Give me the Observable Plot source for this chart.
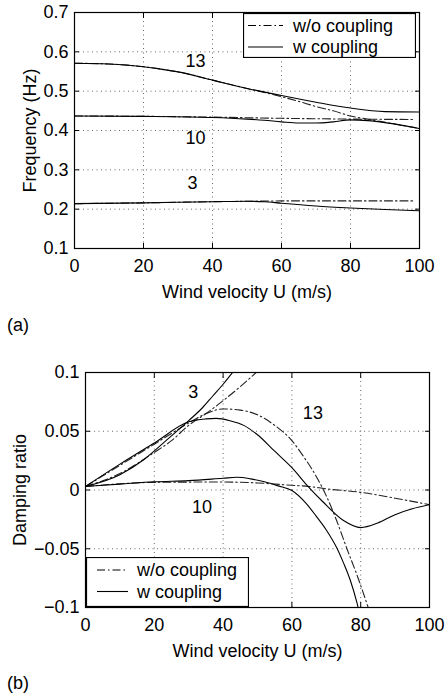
<!DOCTYPE html>
<html><head><meta charset="utf-8">
<script src="https://cdn.jsdelivr.net/npm/d3@7"></script>
<script src="https://cdn.jsdelivr.net/npm/@observablehq/plot@0.6"></script>
<style>
body{margin:0;background:#fff;}
#wrap{position:relative;width:448px;height:696px;font-family:"Liberation Sans",Arial,sans-serif;font-size:18px;color:#000;overflow:hidden;}
.panel{position:absolute;left:0;}
.tag{position:absolute;left:7px;font-size:18px;line-height:18px;}
.legend{position:absolute;}
</style></head><body><div id="wrap"></div>
<script>
// ---------- data (wind velocity U in m/s) ----------
const xTicks = [0, 20, 40, 60, 80, 100];
const freqTicks = [0.1, 0.2, 0.3, 0.4, 0.5, 0.6, 0.7];
const dampTicks = [-0.1, -0.05, 0, 0.05, 0.1];

// (a) Frequency (Hz)
const freq13W  = [[0,0.571],[10,0.569],[20,0.562],[25,0.556],[30,0.549],[40,0.528],[50,0.507],[60,0.489],[70,0.472],[80,0.457],[90,0.448],[100,0.447]];
const freq13WO = [[0,0.571],[10,0.569],[20,0.562],[30,0.549],[40,0.528],[50,0.507],[55,0.497],[60,0.486],[65,0.474],[70,0.461],[75,0.450],[80,0.437],[85,0.429],[90,0.421],[95,0.413],[100,0.405]];
const freq10W  = [[0,0.437],[20,0.436],[40,0.433],[50,0.429],[55,0.426],[60,0.422],[65,0.419],[70,0.419],[75,0.422],[80,0.427],[85,0.425],[90,0.420],[95,0.413],[100,0.405]];
const freq10WO = [[0,0.437],[20,0.436],[40,0.434],[60,0.431],[80,0.429],[98,0.428]];
const freq3W   = [[0,0.214],[20,0.216],[40,0.219],[50,0.220],[55,0.219],[60,0.215],[70,0.208],[80,0.203],[90,0.199],[100,0.196]];
const freq3WO  = [[0,0.214],[20,0.216],[40,0.219],[50,0.220],[60,0.221],[80,0.221],[98,0.221]];

// (b) Damping ratio
const damp3W   = [[0,0.003],[10,0.013],[17,0.026],[23,0.041],[30,0.059],[34,0.070],[37,0.080],[40,0.090],[43,0.101]];
const damp3WO  = [[0,0.003],[10,0.014],[20,0.032],[25,0.042],[30,0.055],[35,0.065],[40,0.076],[45,0.088],[50,0.101]];
const damp13W  = [[0,0.003],[10,0.022],[20,0.040],[30,0.058],[35,0.0605],[38,0.061],[42,0.059],[46,0.055],[50,0.047],[55,0.033],[60,0.019],[64.4,0.004],[69,-0.010],[75,-0.026],[80,-0.032],[85,-0.028],[90,-0.021],[95,-0.016],[100,-0.0125]];
const damp13WO = [[0,0.003],[10,0.021],[20,0.039],[30,0.057],[35,0.065],[40,0.069],[45,0.068],[50,0.064],[55,0.055],[60,0.042],[63.5,0.028],[67,0.012],[70,-0.005],[73,-0.026],[76,-0.050],[79,-0.073],[82.3,-0.101]];
const damp10W  = [[0,0.003],[10,0.005],[20,0.007],[30,0.008],[40,0.0100],[44,0.0108],[48,0.0095],[52,0.007],[56,0.0035],[60,-0.0005],[64,-0.011],[67,-0.022],[70,-0.034],[73,-0.049],[75,-0.062],[77,-0.077],[79,-0.097],[79.5,-0.103]];
const damp10WO = [[0,0.003],[20,0.0065],[40,0.0068],[50,0.006],[60,0.004],[65,0.003],[70,0.001],[80,-0.002],[90,-0.007],[100,-0.0125]];

// mode number annotations
const labelsA = ["13", "10", "3"];
const labelUA = [35.1, 35.1, 34.2];
const labelVA = [0.577, 0.381, 0.267];
const labelsB = ["3", "13", "10"];
const labelUB = [31.3, 66.1, 33.9];
const labelVB = [0.083, 0.0654, -0.0148];

const legendNames = ["w/o coupling", "w coupling"];

// ---------- helpers ----------
function rows(series, id) { return series.map(([U, v]) => ({U, v, id})); }
const DASHDOT = "8,3,1.5,3";
const fmtDamp = d => d === 0 ? "0" : (d < 0 ? "\u2212" : "") + String(Math.abs(d));

function panel({height, mt, mb, ml, mr, yDomain, yTicks, yFmt, yLabel, yLabelOffset, solid, dashed, lblText, lblU, lblV}) {
  const lbl = lblText.map((t, i) => ({t, U: lblU[i], v: lblV[i]}));
  return Plot.plot({
    width: 448, height,
    marginTop: mt, marginBottom: mb, marginLeft: ml, marginRight: mr,
    style: {fontFamily: "'Liberation Sans', Arial, sans-serif", fontSize: "18px", color: "#000", background: "transparent", overflow: "visible"},
    x: {domain: [0, 100]},
    y: {domain: yDomain},
    marks: [
      Plot.gridX(xTicks, {stroke: "#000", strokeOpacity: 0.6, strokeDasharray: "1,3.5"}),
      Plot.gridY(yTicks, {stroke: "#000", strokeOpacity: 0.6, strokeDasharray: "1,3.5"}),
      Plot.axisX(xTicks, {anchor: "bottom", tickSize: 0, tickPadding: 11, tickFormat: d => String(d),
        label: "Wind velocity U (m/s)", labelAnchor: "center", labelArrow: "none", labelOffset: 49}),
      Plot.axisX(xTicks, {anchor: "bottom", tickSize: -5, tickFormat: () => "", label: null}),
      Plot.axisX(xTicks, {anchor: "top", tickSize: -5, tickFormat: () => "", label: null}),
      Plot.axisY(yTicks, {anchor: "left", tickSize: 0, tickPadding: 6, tickFormat: yFmt,
        label: yLabel, labelAnchor: "center", labelArrow: "none", labelOffset: yLabelOffset}),
      Plot.axisY(yTicks, {anchor: "left", tickSize: -5, tickFormat: () => "", label: null}),
      Plot.axisY(yTicks, {anchor: "right", tickSize: -5, tickFormat: () => "", label: null}),
      Plot.line(dashed, {x: "U", y: "v", z: "id", stroke: "#222", strokeWidth: 1.1, strokeDasharray: DASHDOT, curve: "monotone-x", clip: true}),
      Plot.line(solid, {x: "U", y: "v", z: "id", stroke: "#000", strokeWidth: 1.1, curve: "monotone-x", clip: true}),
      Plot.text(lbl, {x: "U", y: "v", text: "t", fontSize: 18, fill: "#000", textAnchor: "middle", lineAnchor: "middle"}),
      Plot.frame({stroke: "#000", strokeWidth: 1.2})
    ]
  });
}

function legend(left, top, w, h, sx0, sx1, tx, rowY) {
  const svg = d3.create("svg").attr("width", w).attr("height", h).attr("class", "legend")
    .style("left", left + "px").style("top", top + "px");
  svg.append("rect").attr("x", 0.5).attr("y", 0.5).attr("width", w - 1).attr("height", h - 1)
    .attr("fill", "#fff").attr("stroke", "#000").attr("stroke-width", 1.2);
  legendNames.forEach((name, i) => {
    svg.append("line").attr("x1", sx0).attr("x2", sx1).attr("y1", rowY[i]).attr("y2", rowY[i])
      .attr("stroke", "#000").attr("stroke-width", 1.1).attr("stroke-dasharray", i === 0 ? DASHDOT : null);
    svg.append("text").attr("x", tx).attr("y", rowY[i]).attr("dy", "0.35em")
      .attr("font-family", "'Liberation Sans', Arial, sans-serif").attr("font-size", 18).text(name);
  });
  return svg.node();
}

const wrap = document.getElementById("wrap");

// panel (a)
const pa = panel({
  height: 300, mt: 12, mb: 52, ml: 74, mr: 29,
  yDomain: [0.1, 0.7], yTicks: freqTicks, yFmt: d => d.toFixed(1),
  yLabel: "Frequency (Hz)", yLabelOffset: 51,
  solid: [...rows(freq13W, "13"), ...rows(freq10W, "10"), ...rows(freq3W, "3")],
  dashed: [...rows(freq13WO, "13"), ...rows(freq10WO, "10"), ...rows(freq3WO, "3")],
  lblText: labelsA, lblU: labelUA, lblV: labelVA
});
pa.classList.add("panel"); pa.style.top = "0px";
wrap.appendChild(pa);
wrap.appendChild(legend(243, 13, 173, 45, 5, 40, 50, [12.5, 34]));

// panel (b)
const pb = panel({
  height: 360, mt: 72, mb: 53, ml: 85, mr: 19,
  yDomain: [-0.1, 0.1], yTicks: dampTicks, yFmt: fmtDamp,
  yLabel: "Damping ratio", yLabelOffset: 72,
  solid: [...rows(damp3W, "3"), ...rows(damp13W, "13"), ...rows(damp10W, "10")],
  dashed: [...rows(damp3WO, "3"), ...rows(damp13WO, "13"), ...rows(damp10WO, "10")],
  lblText: labelsB, lblU: labelUB, lblV: labelVB
});
pb.classList.add("panel"); pb.style.top = "300px";
wrap.appendChild(pb);
wrap.appendChild(legend(86, 557, 163, 50, 11, 42, 51, [13, 34.5]));

// panel tags
for (const [t, y] of [["(a)", 316], ["(b)", 674]]) {
  const d = document.createElement("div");
  d.className = "tag"; d.textContent = t; d.style.top = y + "px";
  wrap.appendChild(d);
}
</script></body></html>
